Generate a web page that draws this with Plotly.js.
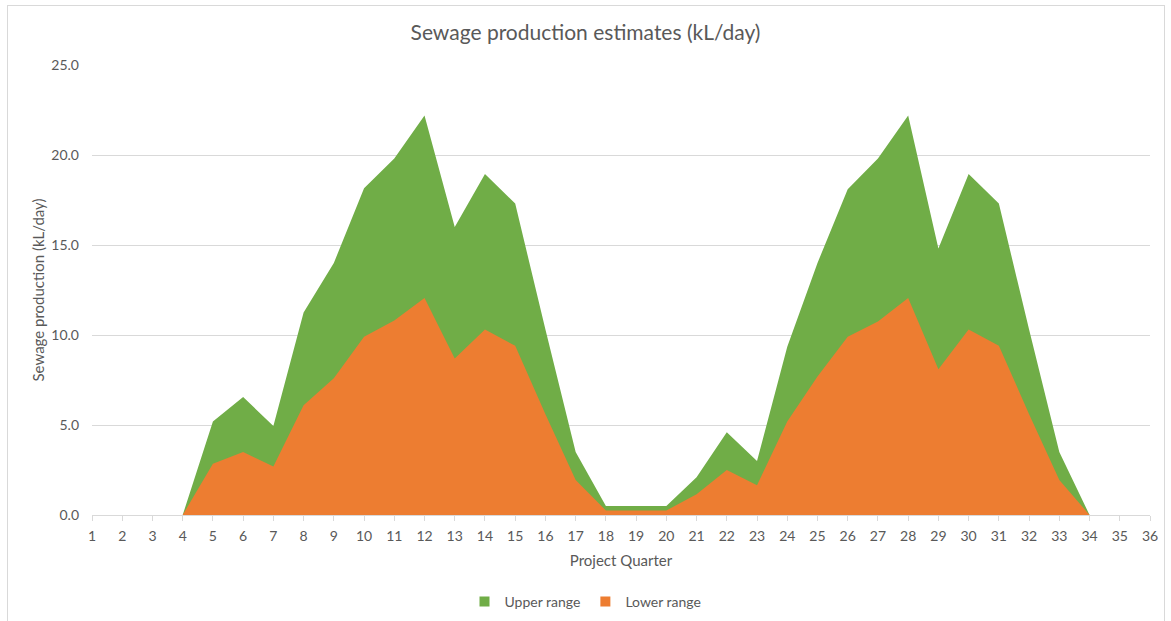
<!DOCTYPE html>
<html>
<head>
<meta charset="utf-8">
<script src="https://cdn.plot.ly/plotly-3.0.1.min.js"></script>
<style>
  html, body { margin: 0; padding: 0; background: #fff; }
  #wrap { position: relative; width: 1171px; height: 621px; overflow: hidden; }
  #frame { position: absolute; left: 7px; top: 5px; width: 1158px; height: 630px; border: 1px solid #d9d9d9; box-sizing: border-box; pointer-events: none; }
  #chart { width: 1171px; height: 621px; }
</style>
</head>
<body>
<div id="wrap">
  <div id="chart"></div>
  <div id="frame"></div>
</div>
<script>
const quarters = [1,2,3,4,5,6,7,8,9,10,11,12,13,14,15,16,17,18,19,20,21,22,23,24,25,26,27,28,29,30,31,32,33,34,35,36];
const upperRange = [0,0,0,0,5.2,6.55,4.95,11.25,14.0,18.15,19.8,22.2,16.0,18.95,17.3,10.3,3.5,0.5,0.5,0.5,2.1,4.6,3.0,9.35,14.0,18.1,19.8,22.2,14.8,18.95,17.3,10.3,3.5,0,0,0];
const lowerRange = [0,0,0,0,2.85,3.5,2.7,6.1,7.6,9.9,10.8,12.05,8.7,10.3,9.4,5.6,1.95,0.25,0.25,0.25,1.15,2.5,1.65,5.2,7.7,9.9,10.75,12.05,8.1,10.3,9.4,5.6,1.95,0,0,0];
const seriesNames = ["Upper range", "Lower range"];
const seriesColors = ["#70AD47", "#ED7D31"];

const font = "Lato, 'Open Sans', sans-serif";
const txt = "#595959";

const traces = [
  { x: quarters, y: upperRange, name: seriesNames[0], type: "scatter", mode: "lines", showlegend: false,
    fill: "tozeroy", fillcolor: seriesColors[0], line: { width: 0, color: seriesColors[0] } },
  { x: quarters, y: lowerRange, name: seriesNames[1], type: "scatter", mode: "lines", showlegend: false,
    fill: "tozeroy", fillcolor: seriesColors[1], line: { width: 0, color: seriesColors[1] } },
  // legend-only entries with square swatches
  { x: [null], y: [null], name: seriesNames[0], type: "scatter", mode: "markers",
    marker: { symbol: "square", size: 10, color: seriesColors[0] } },
  { x: [null], y: [null], name: seriesNames[1], type: "scatter", mode: "markers",
    marker: { symbol: "square", size: 10, color: seriesColors[1] } }
];

const layout = {
  width: 1171, height: 621,
  margin: { l: 92, r: 21, t: 65, b: 106 },
  paper_bgcolor: "#ffffff", plot_bgcolor: "#ffffff",
  font: { family: font, color: txt, size: 14 },
  title: { text: "Sewage production estimates (kL/day)", x: 0.5, xanchor: "center",
           y: 1 - 33/621, yanchor: "middle", yref: "container",
           font: { family: font, size: 21, color: txt } },
  xaxis: {
    range: [1, 36], tickmode: "array", tickvals: quarters, ticktext: quarters.map(String),
    showgrid: false, zeroline: false, showline: true, linecolor: "#d9d9d9", linewidth: 1,
    ticks: "outside", ticklen: 5, tickcolor: "#d9d9d9", tickfont: { size: 14, color: txt },
    ticklabelstandoff: 3,
    title: { text: "Project Quarter", font: { size: 15, color: txt }, standoff: 12 },
    fixedrange: true
  },
  yaxis: {
    range: [0, 25], dtick: 5, tickformat: ".1f",
    showgrid: true, gridcolor: "#d9d9d9", gridwidth: 1, zeroline: false, showline: false,
    ticks: "", tickfont: { size: 14, color: txt }, ticklabelstandoff: 12,
    title: { text: "Sewage production (kL/day)", font: { size: 15, color: txt }, standoff: 3 },
    fixedrange: true
  },
  showlegend: true,
  legend: { orientation: "h", x: 0.5, xanchor: "center", xref: "container",
            y: 1 - 602/621, yanchor: "middle", yref: "container",
            font: { size: 14, color: txt }, traceorder: "normal", itemwidth: 30 },
  hovermode: false
};

Plotly.newPlot("chart", traces, layout, { displayModeBar: false, staticPlot: true });
</script>
</body>
</html>
